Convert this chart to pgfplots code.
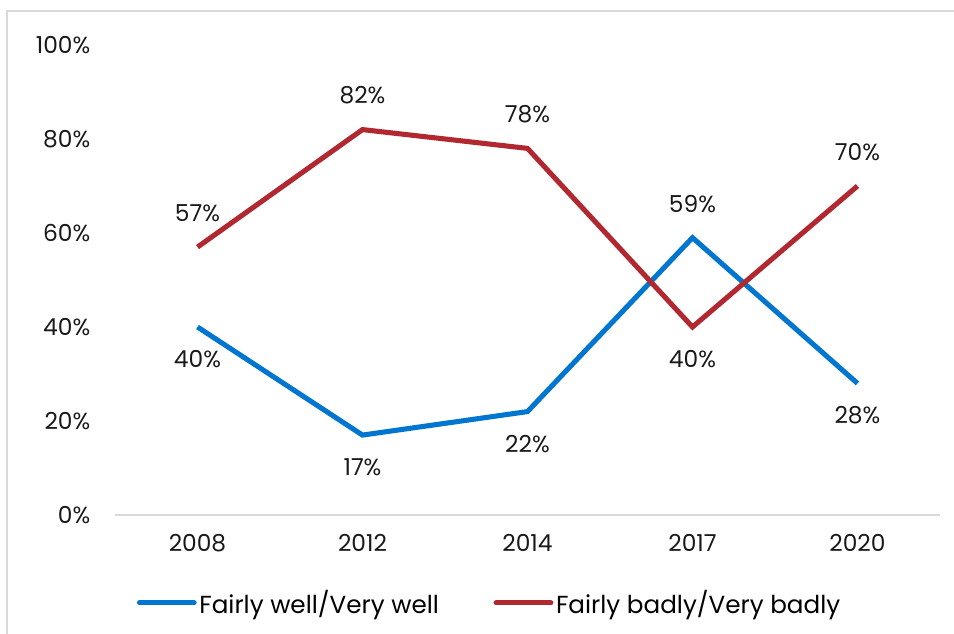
\documentclass[border=0pt]{standalone}
\usepackage{pgfplots}
\pgfplotsset{compat=1.18}
\usepackage{fontspec}
\setmainfont{Poppins}
\definecolor{cblue}{RGB}{0,118,208}
\definecolor{cred}{RGB}{178,40,48}
\definecolor{cgrid}{RGB}{217,217,217}
\newcommand\lblfont{\fontsize{17.5}{20}\selectfont}
\begin{document}
\begin{tikzpicture}
\useasboundingbox (0pt,0pt) rectangle (715.5pt,475.5pt);
\draw[cgrid, line width=1.5pt] (5.25pt,0pt) -- (5.25pt,467.25pt) -- (715.5pt,467.25pt);
\begin{axis}[
  at={(86.25pt,89.25pt)}, anchor=south west,
  scale only axis, width=618.75pt, height=352.5pt,
  xmin=-0.5, xmax=4.5, ymin=0, ymax=100,
  xtick={0,1,2,3,4}, xticklabels={2008,2012,2014,2017,2020},
  ytick={0,20,40,60,80,100},
  yticklabel={\pgfmathprintnumber{\tick}\%},
  /pgf/number format/assume math mode=true,
  tick style={draw=none},
  axis x line*=bottom, axis y line*=left,
  x axis line style={cgrid, line width=1pt, -},
  y axis line style={draw=none},
  ticklabel style={font=\lblfont, text=black!90},
  xticklabel style={yshift=-11pt},
  yticklabel style={xshift=-15pt},
  legend style={draw=none, at={(0.4545,-0.187)}, anchor=center,
    font=\fontsize{18.5}{20}\selectfont, legend columns=2,
    /tikz/every even column/.append style={column sep=39pt},
    inner sep=0pt},
  legend cell align=left,
  legend image code/.code={\draw[#1, line cap=round] (0pt,0pt) -- (41pt,0pt);},
  clip=false,
]
\addplot[cblue, line width=3.8pt, line join=miter] coordinates {(0,40) (1,17) (2,22) (3,59) (4,28)};
\addlegendentry{Fairly well/Very well}
\addplot[cred, line width=3.8pt, line join=miter] coordinates {(0,57) (1,82) (2,78) (3,40) (4,70)};
\addlegendentry{Fairly badly/Very badly}
% labels above
\addplot[draw=none, forget plot, nodes near coords={\pgfmathprintnumber{\pgfplotspointmeta}\%},
  point meta=explicit,
  every node near coord/.append style={anchor=south, yshift=15.5pt, font=\lblfont, text=black!90, /pgf/number format/assume math mode=true}]
  coordinates {(0,57)[57] (1,82)[82] (2,78)[78] (3,59)[59] (4,70)[70]};
% labels below
\addplot[draw=none, forget plot, nodes near coords={\pgfmathprintnumber{\pgfplotspointmeta}\%},
  point meta=explicit,
  every node near coord/.append style={anchor=north, yshift=-14pt, font=\lblfont, text=black!90, /pgf/number format/assume math mode=true}]
  coordinates {(0,40)[40] (1,17)[17] (2,22)[22] (3,40)[40] (4,28)[28]};
\end{axis}
\end{tikzpicture}
\end{document}
